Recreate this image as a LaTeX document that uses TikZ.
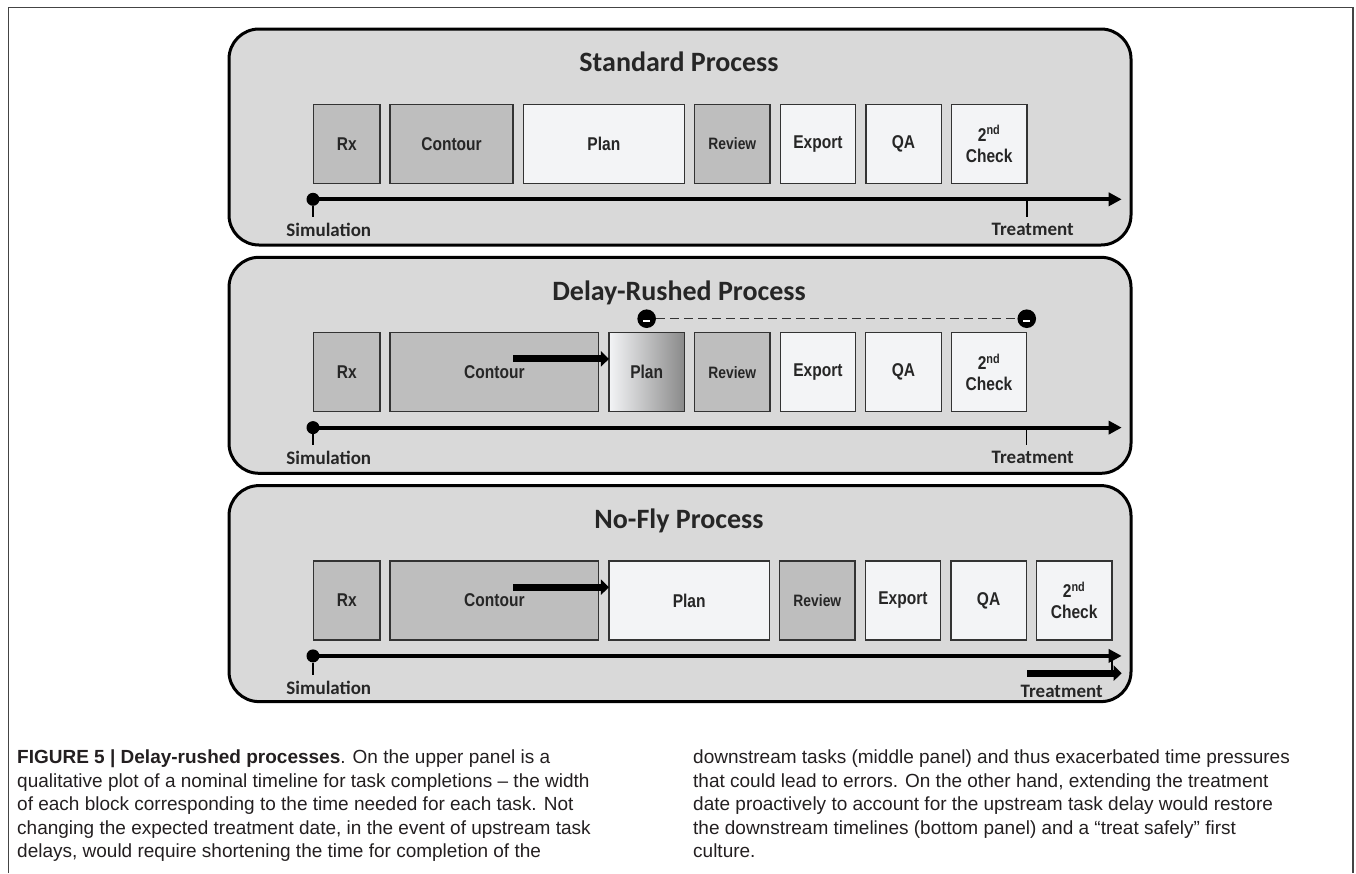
\documentclass[tikz,border=0pt]{standalone}
\usepackage{fontspec}
\setmainfont{Liberation Sans}
\newfontfamily\calfont{Carlito}
\newfontfamily\narrowfont[FakeStretch=0.84]{Liberation Sans}
\usetikzlibrary{positioning, arrows.meta, calc}

\definecolor{panelgray}{HTML}{D9D9D9}
\definecolor{darkbox}{HTML}{BEBEBE}
\definecolor{lightbox}{HTML}{F3F4F6}
\definecolor{boxline}{HTML}{333333}
\definecolor{labeltext}{HTML}{262626}
\definecolor{captext}{HTML}{231F20}
\definecolor{framegray}{HTML}{444444}
\definecolor{planmid}{HTML}{D0D0D0}
\definecolor{planshade}{HTML}{8A8A8A}

\begin{document}
\begin{tikzpicture}[
        x=1pt, y=-1pt,
        % gap between neighbouring task blocks
        node distance=10.2pt,
        panel/.style={draw, line width=3pt, rounded corners=30pt, fill=panelgray,
                      minimum width=902pt, minimum height=216pt},
        heading/.style={anchor=base, text=labeltext,
                        font=\calfont\bfseries\fontsize{28}{30}\selectfont},
        task/.style={draw=boxline, line width=1.3pt, inner sep=0pt, outer sep=0pt,
                     minimum height=79pt, align=center, text=labeltext,
                     font=\narrowfont\bfseries\fontsize{18.5}{21}\selectfont},
        dark/.style={task, fill=darkbox},
        light/.style={task, fill=lightbox},
        small/.style={font=\narrowfont\bfseries\fontsize{16.5}{19}\selectfont},
        when/.style={inner xsep=0pt, inner ysep=6pt, text=labeltext,
                     font=\calfont\bfseries\fontsize{19}{21}\selectfont},
        timedot/.style={circle, fill=black, inner sep=0pt, minimum size=13pt},
        minusdot/.style={circle, fill=black, inner sep=0pt, minimum size=18.6pt,
            path picture={\fill[white] ([xshift=-3.5pt, yshift=-1pt]path picture bounding box.center)
                          rectangle ++(7pt,-2.2pt);}},
        axis/.style={line width=4pt, -{Triangle[length=13pt, width=13pt]}},
        tick/.style={line width=1.3pt},
        push/.style={line width=7pt, -{Triangle[length=8pt, width=15pt]}},
        rush/.style={draw=boxline, line width=1.5pt, dash pattern=on 9pt off 5pt},
        caption/.style={align=left, inner sep=0pt, anchor=north west, text=captext,
                        font=\fontsize{19}{23.5}\selectfont},
        frame/.style={draw=framegray, line width=1.2pt}
    ]
    \useasboundingbox (0,0) rectangle (1356,873);

    % --- Page frame ---
    \draw[frame] (8.3,873) -- (8.3,7.3) -- (1353,7.3) -- (1353,873);

    % --- Standard process ---
    \node[panel] (pan1) at (680,137) {};
    \node[heading] (head1) at (679,71.7) {Standard Process};
    \node[dark, minimum width=66.2pt, anchor=west] (rx1) at (313.65,143.9) {Rx};
    \node[dark, minimum width=123pt, right=of rx1] (cont1) {Contour};
    \node[light, minimum width=161.2pt, right=of cont1] (plan1) {Plan};
    \node[dark, small, minimum width=75.4pt, right=of plan1] (rev1) {Review};
    \node[light, minimum width=75.4pt, right=of rev1] (exp1) {Export};
    \node[light, minimum width=75.4pt, right=of exp1] (qa1) {QA};
    \node[light, minimum width=75.4pt, right=of qa1] (chk1) {2\textsuperscript{nd}\\Check};

    \coordinate (start1) at (313,199.3);
    \coordinate (end1) at (1121.7,199.3);
    \draw[axis] (start1) -- (end1);
    \node[timedot] (sim1) at (start1) {};
    \node[when] (simlbl1) at (328.8,229.8) {Simulation};
    \node[when] (treatlbl1) at (1032.7,229.6) {Treatment};
    \draw[tick] (sim1) -- (sim1 |- simlbl1.north);
    \draw[tick] (chk1.east |- end1) -- (chk1.east |- treatlbl1.north);

    % --- Delay-rushed process ---
    \node[panel] (pan2) at (680,365.3) {};
    \node[heading] (head2) at (679,300) {Delay-Rushed Process};
    \node[dark, minimum width=66.2pt, anchor=west] (rx2) at (313.65,372.2) {Rx};
    \node[dark, minimum width=208.7pt, right=of rx2] (cont2) {Contour};
    \node[task, left color=lightbox, middle color=planmid, right color=planshade,
          minimum width=75.4pt, right=of cont2] (plan2) {Plan};
    \node[dark, small, minimum width=75.4pt, right=of plan2] (rev2) {Review};
    \node[light, minimum width=75.4pt, right=of rev2] (exp2) {Export};
    \node[light, minimum width=75.4pt, right=of exp2] (qa2) {QA};
    \node[light, minimum width=75.4pt, right=of qa2] (chk2) {2\textsuperscript{nd}\\Check};

    \coordinate (push2) at (513.4,358.9);
    \draw[push] (push2) -- (plan2.west |- push2);

    \node[minusdot, above=4.5pt of plan2] (rushL) {};
    \node[minusdot, above=4.5pt of chk2.north east] (rushR) {};
    \draw[rush] (rushL) -- (rushR);

    \coordinate (start2) at (313,427.6);
    \coordinate (end2) at (1121.7,427.6);
    \draw[axis] (start2) -- (end2);
    \node[timedot] (sim2) at (start2) {};
    \node[when] (simlbl2) at (328.8,458.1) {Simulation};
    \node[when] (treatlbl2) at (1032.7,457.9) {Treatment};
    \draw[tick] (sim2) -- (sim2 |- simlbl2.north);
    \draw[tick] (chk2.east |- end2) -- (chk2.east |- treatlbl2.north);

    % --- No-fly process ---
    \node[panel] (pan3) at (680,593.6) {};
    \node[heading] (head3) at (679,528.3) {No-Fly Process};
    \node[dark, minimum width=66.2pt, anchor=west] (rx3) at (313.65,600.5) {Rx};
    \node[dark, minimum width=208.7pt, right=of rx3] (cont3) {Contour};
    \node[light, minimum width=160.5pt, right=of cont3] (plan3) {Plan};
    \node[dark, small, minimum width=75.4pt, right=of plan3] (rev3) {Review};
    \node[light, minimum width=75.4pt, right=of rev3] (exp3) {Export};
    \node[light, minimum width=75.4pt, right=of exp3] (qa3) {QA};
    \node[light, minimum width=75.4pt, right=of qa3] (chk3) {2\textsuperscript{nd}\\Check};

    \coordinate (push3) at (513.4,587.2);
    \draw[push] (push3) -- (plan3.west |- push3);

    \coordinate (start3) at (313,655.9);
    \coordinate (end3) at (1121.7,655.9);
    \draw[axis] (start3) -- (end3);
    \node[timedot] (sim3) at (start3) {};
    \node[when] (simlbl3) at (328.8,688.3) {Simulation};
    \node[when] (treatlbl3) at (1061.7,691.8) {Treatment};
    \draw[tick] (sim3) -- (sim3 |- simlbl3.north);

    \coordinate (late3) at (1027.3,673.2);
    \draw[tick] (chk3.east |- end3) -- (chk3.east |- late3);
    \draw[push] (late3) -- (end3 |- late3);

    % --- Caption ---
    \node[caption] (capL) at (17,750) {\rule{0pt}{13.5pt}\textbf{FIGURE 5 | Delay-rushed processes}. On the upper panel is a\\
        qualitative plot of a nominal timeline for task completions – the width\\
        of each block corresponding to the time needed for each task. Not\\
        changing the expected treatment date, in the event of upstream task\\
        delays, would require shortening the time for completion of the};
    \node[caption] (capR) at (693,750) {\rule{0pt}{13.5pt}downstream tasks (middle panel) and thus exacerbated time pressures\\
        that could lead to errors. On the other hand, extending the treatment\\
        date proactively to account for the upstream task delay would restore\\
        the downstream timelines (bottom panel) and a “treat safely” first\\
        culture.};

\end{tikzpicture}
\end{document}
